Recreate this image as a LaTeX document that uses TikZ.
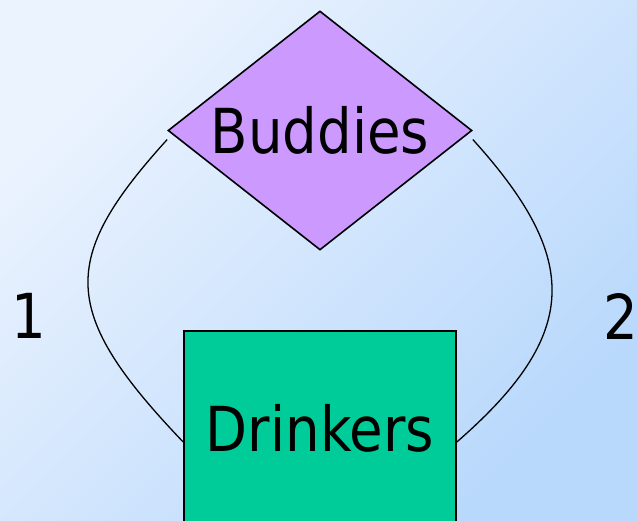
\documentclass[tikz,border=0pt]{standalone}
\usepackage{fontspec}
\setmainfont{DejaVu Sans}[FakeStretch=0.88]
\usetikzlibrary{shapes.geometric}
\definecolor{bgA}{HTML}{EBF3FE}
\definecolor{bgB}{HTML}{B8D8FC}
\definecolor{relfill}{HTML}{CC99FF}
\definecolor{entfill}{HTML}{00CC99}
\begin{document}
\begin{tikzpicture}[x=1pt,y=-1pt,
  lbl/.style={font=\fontsize{62}{62}\selectfont, inner sep=0pt},
  rel/.style={diamond, draw, line width=1.6pt, fill=relfill, aspect=1.27, minimum width=304pt, minimum height=239pt, inner sep=0pt, lbl},
  ent/.style={rectangle, draw, line width=1.6pt, fill=entfill, minimum width=272pt, minimum height=194pt, inner sep=0pt, lbl},
  conn/.style={draw, line width=1.3pt}]
\useasboundingbox (0,0) rectangle (637,520);
\shade[top color=bgA,bottom color=bgB,shading angle=45] (0,0) rectangle (637,520);
\node[rel] (b) at (320,130.5) {Buddies};
\node[ent] (d) at (320,428) {Drinkers};
\draw[conn] ([yshift=-9pt]b.west) .. controls (59,259) and (59,312) .. ([yshift=-14pt]d.west);
\draw[conn] ([yshift=-9pt]b.east) .. controls (581,259) and (581,334) .. ([yshift=-14pt]d.east);
\node[lbl] (one) at (29,316) {1};
\node[lbl] (two) at (621,316) {2};
\end{tikzpicture}
\end{document}
